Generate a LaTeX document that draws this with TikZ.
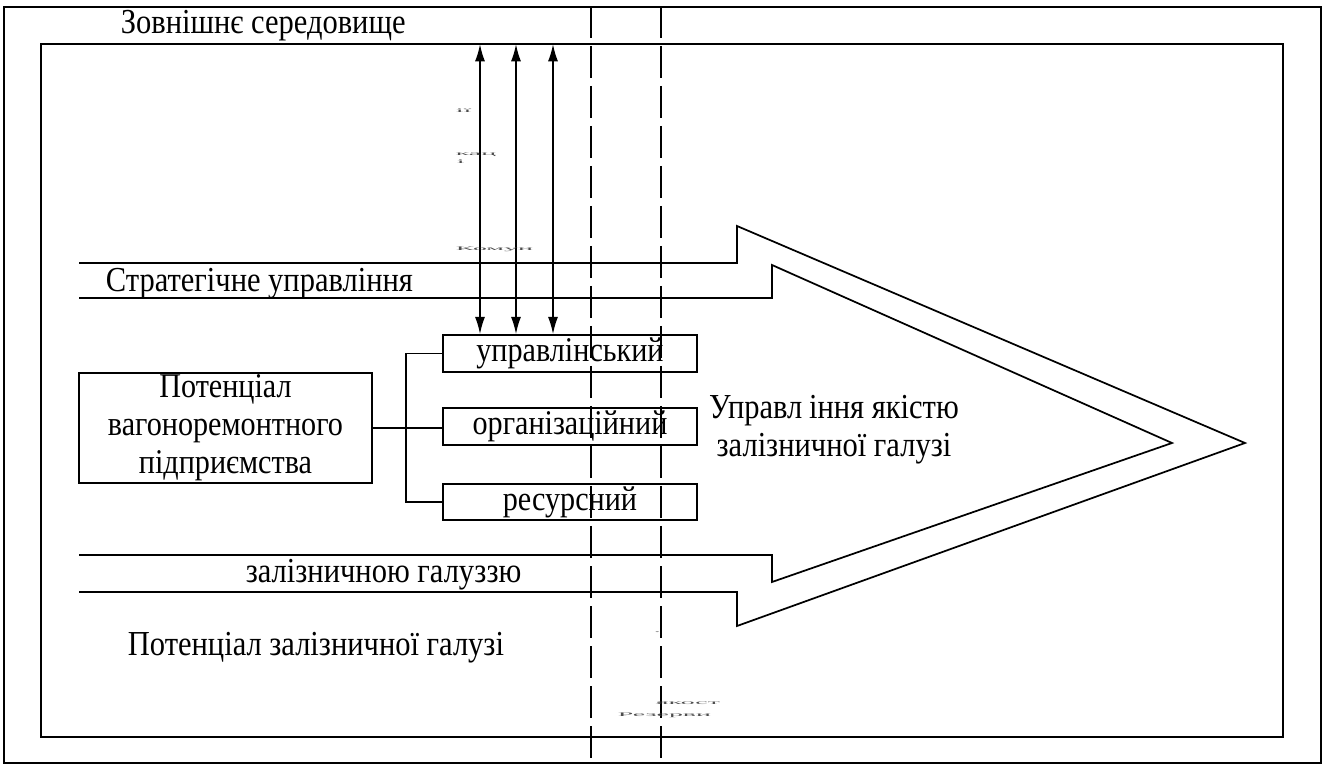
\documentclass[tikz,border=0pt]{standalone}
\usepackage{fontspec}
\setmainfont[FakeStretch=0.87]{Liberation Serif}
\usetikzlibrary{arrows.meta}
\begin{document}
\begin{tikzpicture}[x=0.75pt,y=-0.75pt,line width=1.3pt,
  txt/.style={inner sep=0pt,font=\fontsize{26.3}{28.5}\selectfont},
  boxn/.style={draw,inner sep=0pt,minimum width=190.5pt,minimum height=27.5pt,font=\fontsize{26}{28.5}\selectfont},
  dbl/.style={{Latex[length=13pt,width=7.5pt]}-{Latex[length=13pt,width=7.5pt]}},
  dsh/.style={line width=1.1pt,dash pattern=on 24pt off 6pt},
  tiny/.style={inner sep=0pt,text=black!70,font=\fontsize{24}{24}\selectfont}]
\useasboundingbox (0,0) rectangle (1325,766);
\fill[white] (0,0) rectangle (1325,766);
% frames
\draw (4,7) rectangle (1321,763);
\draw (41,44) rectangle (1283,737);
% big arrow
\draw (79,263) -- (737,263) -- (737,226) -- (1245,443) -- (737,626) -- (737,592) -- (79,592);
\draw (79,298) -- (772,298) -- (772,265) -- (1172,443) -- (772,582) -- (772,555) -- (79,555);
% boxes
\node[boxn] (upr) at (570,353.5) {управлінський};
\node[boxn] (org) at (570,426.5) {організаційний};
\node[boxn] (res) at (570,502) {ресурсний};
\node[draw,inner sep=0pt,minimum width=219.75pt,minimum height=82.5pt,align=center,font=\fontsize{26}{28.5}\selectfont] (pot) at (225.5,428) {Потенціал\\вагоноремонтного\\підприємства};
% connectors
\coordinate (brx) at (406,0);
\draw (pot.east) -- (pot.east -| org.west);
\draw (upr.west) -- (upr.west -| brx) -- (res.west -| brx) -- (res.west);
\coordinate (t1) at (480,44);
\coordinate (t2) at (516,44);
\coordinate (t3) at (553,44);
\draw[dbl] (t1) -- (t1 |- upr.north);
\draw[dbl] (t2) -- (t2 |- upr.north);
\draw[dbl] (t3) -- (t3 |- upr.north);
% dashed lines
\draw[line width=1.1pt] (591,7) -- (591,38);
\draw[line width=1.1pt] (661,7) -- (661,38);
\draw[dsh] (591,46) -- (591,766);
\draw[dsh] (661,46) -- (661,766);
% texts
\node[txt,anchor=west] (zs) at (120,26) {Зовнішнє середовище};
\node[txt,anchor=west] (su) at (105,284) {Стратегічне управління};
\node[txt,align=center] (uy) at (834,430) {Управл\kern5pt іння якістю\\залізничної галузі};
\node[txt,anchor=west] (zg) at (245,575) {залізничною галуззю};
\node[txt,anchor=west] (pz) at (127,648) {Потенціал залізничної галузі};
% tiny squashed labels
\node[tiny,anchor=west] (k1) at (455,111) {\scalebox{1}[0.17]{ії}};
\node[tiny,anchor=west] (k2) at (455,155) {\scalebox{1}[0.17]{кац}};
\node[tiny,anchor=west] (k3) at (456,162) {\scalebox{1}[0.17]{і}};
\node[tiny,anchor=west] (k4) at (455,249) {\scalebox{1}[0.17]{Комун}};
\node[tiny,anchor=west] (r0) at (653,632) {\scalebox{1}[0.17]{.}};
\node[tiny,anchor=west] (r1) at (655,703) {\scalebox{1}[0.17]{якост}};
\node[tiny,anchor=west] (r2) at (617,715) {\scalebox{1}[0.17]{Резерви}};
\end{tikzpicture}
\end{document}
